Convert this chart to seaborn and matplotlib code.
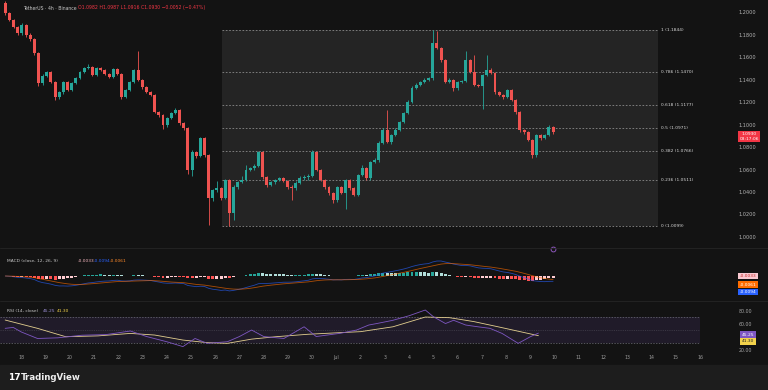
import numpy as np
import pandas as pd
import matplotlib
matplotlib.use("Agg")
import matplotlib.pyplot as plt
import seaborn as sns
from matplotlib.patches import Rectangle
from matplotlib.lines import Line2D

# ---------------- data ----------------
opens = [1.2080,1.1990,1.1930,1.1870,1.1814,1.1885,1.1796,1.1760,1.1636,1.1369,
         1.1431,1.1467,1.1378,1.1245,1.1289,1.1378,1.1307,1.1369,1.1414,1.1467,
         1.1502,1.1511,1.1440,1.1502,1.1485,1.1449,1.1422,1.1494,1.1449,1.1245,
         1.1307,1.1378,1.1485,1.1396,1.1334,1.1289,1.1262,1.1111,1.1084,1.0995,
         1.1058,1.1102,1.1129,1.1013,1.0969,1.0596,1.0756,1.0720,1.0880,1.0729,
         1.0347,1.0418,1.0436,1.0347,1.0507,1.0213,1.0445,1.0489,1.0507,1.0596,
         1.0613,1.0631,1.0756,1.0533,1.0462,1.0489,1.0507,1.0525,1.0498,1.0445,
         1.0436,1.0480,1.0525,1.0533,1.0545,1.0756,1.0596,1.0507,1.0445,1.0391,
         1.0329,1.0445,1.0391,1.0507,1.0436,1.0373,1.0551,1.0613,1.0525,1.0667,
         1.0685,1.0836,1.0951,1.0845,1.0907,1.0951,1.1022,1.1102,1.1200,1.1325,
         1.1351,1.1378,1.1396,1.1414,1.1725,1.1680,1.1573,1.1378,1.1396,1.1325,
         1.1378,1.1390,1.1573,1.1467,1.1351,1.1340,1.1440,1.1485,1.1458,1.1289,
         1.1262,1.1245,1.1307,1.1218,1.1111,1.0951,1.0933,1.0862,1.0729,1.0907,
         1.0880,1.0907,1.0982]
closes = [1.1990,1.1930,1.1870,1.1814,1.1885,1.1796,1.1760,1.1636,1.1369,1.1431,
          1.1467,1.1378,1.1245,1.1289,1.1378,1.1307,1.1369,1.1414,1.1467,1.1502,
          1.1511,1.1440,1.1502,1.1485,1.1449,1.1422,1.1494,1.1449,1.1245,1.1307,
          1.1378,1.1485,1.1396,1.1334,1.1289,1.1262,1.1111,1.1084,1.0995,1.1058,
          1.1102,1.1129,1.1013,1.0969,1.0596,1.0756,1.0720,1.0880,1.0729,1.0347,
          1.0418,1.0436,1.0347,1.0507,1.0213,1.0445,1.0489,1.0507,1.0596,1.0613,
          1.0631,1.0756,1.0533,1.0462,1.0489,1.0507,1.0525,1.0498,1.0445,1.0436,
          1.0480,1.0525,1.0533,1.0545,1.0756,1.0596,1.0507,1.0445,1.0391,1.0329,
          1.0445,1.0391,1.0507,1.0436,1.0373,1.0551,1.0613,1.0525,1.0667,1.0685,
          1.0836,1.0951,1.0845,1.0907,1.0951,1.1022,1.1102,1.1200,1.1325,1.1351,
          1.1378,1.1396,1.1414,1.1725,1.1680,1.1573,1.1378,1.1396,1.1325,1.1378,
          1.1390,1.1573,1.1467,1.1351,1.1340,1.1440,1.1485,1.1458,1.1289,1.1262,
          1.1245,1.1307,1.1218,1.1111,1.0951,1.0933,1.0862,1.0729,1.0907,1.0880,
          1.0907,1.0982,1.0930]
highs = [1.2100,1.2000,1.1940,1.1880,1.1900,1.1895,1.1810,1.1770,1.1645,1.1450,
         1.1480,1.1475,1.1385,1.1300,1.1390,1.1385,1.1380,1.1425,1.1480,1.1515,
         1.1540,1.1520,1.1515,1.1510,1.1495,1.1460,1.1505,1.1505,1.1460,1.1320,
         1.1390,1.1495,1.1650,1.1405,1.1345,1.1300,1.1270,1.1120,1.1090,1.1070,
         1.1115,1.1150,1.1135,1.1020,1.0975,1.0770,1.0765,1.0890,1.0890,1.0740,
         1.0430,1.0500,1.0445,1.0520,1.0520,1.0460,1.0500,1.0540,1.0640,1.0625,
         1.0645,1.0765,1.0765,1.0545,1.0500,1.0520,1.0535,1.0535,1.0510,1.0460,
         1.0495,1.0540,1.0550,1.0560,1.0770,1.0765,1.0605,1.0515,1.0455,1.0400,
         1.0455,1.0455,1.0520,1.0520,1.0445,1.0560,1.0640,1.0620,1.0680,1.0700,
         1.0850,1.0965,1.1129,1.0920,1.0965,1.1035,1.1115,1.1215,1.1340,1.1365,
         1.1390,1.1410,1.1425,1.1844,1.1830,1.1690,1.1585,1.1410,1.1405,1.1390,
         1.1400,1.1650,1.1585,1.1620,1.1360,1.1450,1.1620,1.1500,1.1470,1.1300,
         1.1275,1.1320,1.1320,1.1230,1.1120,1.0960,1.0945,1.0875,1.0920,1.0915,
         1.0920,1.1000,1.0987]
lows = [1.1975,1.1920,1.1855,1.1800,1.1800,1.1780,1.1740,1.1620,1.1340,1.1350,
        1.1420,1.1365,1.1220,1.1230,1.1270,1.1295,1.1295,1.1360,1.1405,1.1455,
        1.1490,1.1430,1.1430,1.1475,1.1440,1.1410,1.1415,1.1440,1.1230,1.1235,
        1.1295,1.1370,1.1385,1.1320,1.1280,1.1250,1.1100,1.1070,1.0960,1.0980,
        1.1045,1.1090,1.1000,1.0955,1.0560,1.0540,1.0705,1.0710,1.0715,1.0110,
        1.0320,1.0400,1.0330,1.0335,1.0099,1.0150,1.0430,1.0480,1.0495,1.0585,
        1.0600,1.0620,1.0520,1.0445,1.0450,1.0475,1.0495,1.0485,1.0430,1.0330,
        1.0420,1.0470,1.0510,1.0505,1.0530,1.0585,1.0495,1.0430,1.0375,1.0300,
        1.0315,1.0380,1.0250,1.0420,1.0360,1.0360,1.0540,1.0510,1.0510,1.0655,
        1.0670,1.0825,1.0835,1.0830,1.0895,1.0940,1.1010,1.1090,1.1190,1.1315,
        1.1340,1.1365,1.1385,1.1400,1.1670,1.1560,1.1365,1.1365,1.1300,1.1310,
        1.1365,1.1380,1.1455,1.1340,1.1335,1.1140,1.1430,1.1445,1.1275,1.1250,
        1.1230,1.1235,1.1205,1.1095,1.0935,1.0920,1.0850,1.0700,1.0715,1.0860,
        1.0870,1.0895,1.0916]

fib_ratio_labels = ["1", "0.786", "0.618", "0.5", "0.382", "0.236", "0"]
fib_prices = [1.1844, 1.1470, 1.1177, 1.0971, 1.0766, 1.0511, 1.0099]

price_ticks = [1.0000, 1.0200, 1.0400, 1.0600, 1.0800, 1.1000,
               1.1200, 1.1400, 1.1600, 1.1800, 1.2000]

date_labels = ["18", "19", "20", "21", "22", "23", "24", "25", "26", "27", "28",
               "29", "30", "Jul", "2", "3", "4", "5", "6", "7", "8", "9", "10",
               "11", "12", "13", "14", "15", "16"]

rsi_idx = [0, 2, 4, 8, 13, 19, 25, 31, 35, 40, 44, 47, 50, 55, 58, 61, 64, 69,
           74, 77, 83, 87, 90, 92, 96, 100, 104, 106, 109, 111, 114, 117, 120,
           123, 127, 130, 132]
rsi_vals = [52.6, 54.0, 47.0, 37.0, 38.0, 42.0, 43.0, 48.5, 40.0, 32.0, 24.5,
            37.0, 29.5, 32.0, 40.0, 50.0, 40.0, 37.0, 55.0, 40.0, 45.0, 50.0,
            57.7, 60.0, 65.0, 72.0, 80.8, 70.5, 60.0, 65.0, 57.7, 55.0, 52.6,
            44.8, 29.5, 39.7, 45.25]
rsi_ma_idx = [0, 8, 15, 23, 31, 37, 44, 50, 55, 61, 67, 75, 83, 88, 96, 104,
              110, 116, 122, 132]
rsi_ma_vals = [65.4, 52.6, 39.7, 41.0, 44.8, 42.3, 34.6, 30.6, 29.5, 36.0, 39.7,
               43.5, 46.0, 47.5, 55.0, 70.0, 69.0, 63.0, 55.0, 41.3]

# ---------------- style ----------------
sns.set_theme(style="dark")
plt.rcParams["font.family"] = ["DejaVu Sans"]

W, H = 768, 390
BG = "#131313"
UP, DOWN = "#26a69a", "#ef5350"
fig = plt.figure(figsize=(W / 100, H / 100), dpi=100)
fig.patch.set_facecolor(BG)


def ax_px(x0, y0, x1, y1):
    a = fig.add_axes([x0 / W, 1 - y1 / H, (x1 - x0) / W, (y1 - y0) / H])
    a.set_facecolor(BG)
    for s in a.spines.values():
        s.set_visible(False)
    a.grid(False)
    return a


def ftext(x, y, s, **kw):
    return fig.text(x / W, 1 - y / H, s, **kw)


o = np.array(opens); c = np.array(closes); h = np.array(highs); l = np.array(lows)
n = len(c)
idx = np.arange(n)
XL = (-5.3 / 4.15, (700 - 5.3) / 4.15)
cols = np.where(c >= o, UP, DOWN)

# bottom band
fig.add_artist(Rectangle((0, 0), 1, 25 / H, transform=fig.transFigure,
                         color="#1d1d1d", zorder=0))

# ---------------- main price pane ----------------
ax = ax_px(0, 0, 700, 247)
ax.set_xlim(*XL)
ax.set_ylim(0.9911, 1.2107)
f0, f1 = 52.2, 157.3
ax.add_patch(Rectangle((f0, fib_prices[-1]), f1 - f0, fib_prices[0] - fib_prices[-1],
                       color="#242424", zorder=0, lw=0))
ax.hlines(fib_prices, f0, f1, colors="#8a8a8a", linestyles=(0, (2, 2)), lw=0.6, zorder=1)
for lab, p in zip(fib_ratio_labels, fib_prices):
    ax.text(f1 + 0.8, p, f"{lab} ({p:.4f})", va="center", ha="left",
            fontsize=3.2, color="#d8d8d8")
ax.vlines(idx, l, h, colors=cols, lw=0.6, zorder=2)
body = np.maximum(np.abs(c - o), 0.0004)
ax.bar(idx, body, bottom=np.minimum(o, c), width=0.72, color=cols, lw=0, zorder=3)
ax.yaxis.tick_right()
ax.set_yticks(price_ticks)
ax.set_yticklabels([f"{v:.4f}" for v in price_ticks])
ax.tick_params(axis="y", length=0, pad=28, labelsize=3.6, labelcolor="#b5b5b5")
ax.set_xticks([])
ax.annotate(f"{c[-1]:.4f}\n03:17:06", xy=(749 / 700, c[-1]),
            xycoords=("axes fraction", "data"), xytext=(0, -3), textcoords="offset points",
            ha="center", va="center", fontsize=3.2, color="white", linespacing=1.1,
            annotation_clip=False,
            bbox=dict(boxstyle="square,pad=0.35", fc="#f23645", ec="none"))

# title
ftext(23, 8, "TetherUS · 4h · Binance", fontsize=3.3, color="#c8c8c8", va="center")
ftext(78, 8, f"O{o[-1]:.4f} H{h[-1]:.4f} L{l[-1]:.4f} C{c[-1]:.4f} −0.0052 (−0.47%)",
      fontsize=3.3, color="#f23645", va="center")

# ---------------- MACD pane ----------------
s = pd.Series(c)
macd = s.ewm(span=12, adjust=False).mean() - s.ewm(span=26, adjust=False).mean()
signal = macd.ewm(span=9, adjust=False).mean()
hist = (macd - signal).to_numpy()
prev = np.concatenate([[0.0], hist[:-1]])
hcols = np.where(hist >= 0, np.where(hist >= prev, "#26a69a", "#b2dfdb"),
                 np.where(hist < prev, "#ff5252", "#ffcdd2"))
ax2 = ax_px(0, 250, 700, 300)
ax2.set_xlim(*XL)
ax2.bar(idx, hist, width=0.7, color=hcols, lw=0)
sns.lineplot(x=idx, y=macd.to_numpy(), ax=ax2, color="#2962ff", lw=0.6, alpha=0.65)
sns.lineplot(x=idx, y=signal.to_numpy(), ax=ax2, color="#ff6d00", lw=0.6, alpha=0.65)
top = np.nanmax(np.abs(macd.to_numpy())) * 26 / 15
ax2.set_ylim(-top * 24 / 26, top)
ax2.set_xticks([]); ax2.set_yticks([])
ax2.set_xlabel(""); ax2.set_ylabel("")
ftext(7, 261, "MACD (close, 12, 26, 9)", fontsize=3.2, color="#c8c8c8", va="center")
ftext(78, 261, "-0.0033", fontsize=3.2, color="#f4b6bf", va="center")
ftext(94, 261, "-0.0094", fontsize=3.2, color="#2962ff", va="center")
ftext(110, 261, "-0.0061", fontsize=3.2, color="#ff8a2a", va="center")
for yy, txt, fc, tc in [(276, "-0.0033", "#f8c8d0", "#c62828"),
                        (284.5, "-0.0061", "#ff6d00", "white"),
                        (292, "-0.0094", "#2962ff", "white")]:
    ftext(748, yy, txt, fontsize=3.2, color=tc, ha="center", va="center",
          bbox=dict(boxstyle="square,pad=0.3", fc=fc, ec="none"))
fig.add_artist(Line2D([553 / W], [1 - 249 / H], marker="o", ms=3.5, mfc="none",
                      mec="#9c5fd1", mew=0.6, transform=fig.transFigure))

# ---------------- RSI pane ----------------
ax3 = ax_px(0, 300, 700, 352)
ax3.set_xlim(*XL)
ax3.set_ylim(16.2, 96.2)
ax3.axhspan(30, 70, color="#7e57c2", alpha=0.13, lw=0)
ax3.axhline(70, color="#6f6f7a", lw=0.5, ls=(0, (2, 2)))
ax3.axhline(50, color="#6f6f7a", lw=0.4, ls=(0, (2, 2)), alpha=0.6)
ax3.axhline(30, color="#6f6f7a", lw=0.5, ls=(0, (2, 2)))
sns.lineplot(x=rsi_ma_idx, y=rsi_ma_vals, ax=ax3, color="#e3cf8f", lw=0.6)
sns.lineplot(x=rsi_idx, y=rsi_vals, ax=ax3, color="#7e57c2", lw=0.6)
ax3.yaxis.tick_right()
ax3.set_yticks([80, 60, 20])
ax3.set_yticklabels(["80.00", "60.00", "20.00"])
ax3.tick_params(axis="y", length=0, pad=28, labelsize=3.4, labelcolor="#a5a5a5")
ax3.set_xticks([4 + 6 * k for k in range(len(date_labels))])
ax3.set_xticklabels(date_labels)
ax3.tick_params(axis="x", length=0, pad=2.2, labelsize=3.4, labelcolor="#9a9a9a")
ax3.set_xlabel(""); ax3.set_ylabel("")
ftext(7, 311, "RSI (14, close)", fontsize=3.2, color="#c8c8c8", va="center")
ftext(43, 311, "45.25", fontsize=3.2, color="#9c8fd6", va="center")
ftext(57, 311, "41.30", fontsize=3.2, color="#f2d24b", va="center")
ftext(748, 334.5, "45.25", fontsize=3.2, color="white", ha="center", va="center",
      bbox=dict(boxstyle="square,pad=0.3", fc="#7e57c2", ec="none"))
ftext(748, 341.5, "41.30", fontsize=3.2, color="#222222", ha="center", va="center",
      bbox=dict(boxstyle="square,pad=0.3", fc="#f2d24b", ec="none"))

# separators
for yy in (248.5, 300.5):
    fig.add_artist(Line2D([0, 1], [1 - yy / H] * 2, color="#262626", lw=0.6,
                          transform=fig.transFigure))

# logo
ftext(8, 378, "17", fontsize=6.5, color="white", weight="bold", va="center")
ftext(21, 378, "TradingView", fontsize=6.2, color="#eeeeee", weight="semibold", va="center")

fig.savefig("out.png", dpi=100, facecolor=BG)
